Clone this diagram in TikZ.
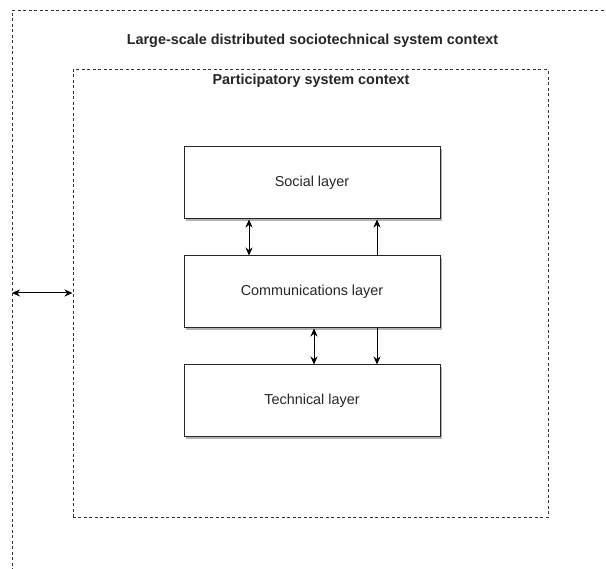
\documentclass[tikz,border=0pt]{standalone}
\usepackage{fontspec}
\setmainfont{Liberation Sans}
\usetikzlibrary{arrows.meta,calc}
\begin{document}
\begin{tikzpicture}[x=1pt,y=-1pt,
  ctx/.style={draw=black!80, line width=0.9pt, dash pattern=on 3pt off 2.5pt, inner sep=0pt},
  layer/.style={draw=black!85, line width=1pt, fill=white, minimum width=256pt, minimum height=72pt, inner sep=0pt,
     font=\fontsize{14.4}{17}\selectfont, text=black!85},
  shad/.style={fill=black!30, draw=none},
  arr/.style={line width=1pt, draw=black, -{Stealth[length=8pt,width=7pt]}},
  darr/.style={line width=1pt, draw=black, {Stealth[length=8pt,width=7pt]}-{Stealth[length=8pt,width=7pt]}},
  ttl/.style={font=\bfseries\fontsize{14.4}{17}\selectfont, text=black!85}
]
\clip (0,0) rectangle (606,569);
\fill[white] (0,0) rectangle (606,569);
% outer context (extends past the page)
\node[ctx, minimum width=620pt, minimum height=600pt, anchor=north west] (outer) at (12,10) {};
\node[ttl] (outerlbl) at (312.5,41) {Large-scale distributed sociotechnical system context};
% inner context
\node[ctx, minimum width=475pt, minimum height=448pt, anchor=north west] (inner) at (72.5,69.5) {};
\node[ttl] (innerlbl) at (311,81) {Participatory system context};
% shadows
\fill[shad] (186,149.5) rectangle (442,221.5);
\fill[shad] (186,258.5) rectangle (442,330.5);
\fill[shad] (186,367.5) rectangle (442,439.5);
% layers
\node[layer] (social) at (312,183) {Social layer};
\node[layer] (comm) at (312,292) {Communications layer};
\node[layer] (tech) at (312,401) {Technical layer};
% connector positions
\coordinate (xa) at (249,0);
\coordinate (xb) at (377,0);
\coordinate (xc) at (314,0);
\coordinate (ya) at (0,293);
\draw[darr] (xa |- social.south) -- (xa |- comm.north);
\draw[arr] (xb |- comm.north) -- (xb |- social.south);
\draw[darr] (xc |- comm.south) -- (xc |- tech.north);
\draw[arr] (xb |- comm.south) -- (xb |- tech.north);
\draw[darr] (outer.west |- ya) -- (inner.west |- ya);
\end{tikzpicture}
\end{document}
